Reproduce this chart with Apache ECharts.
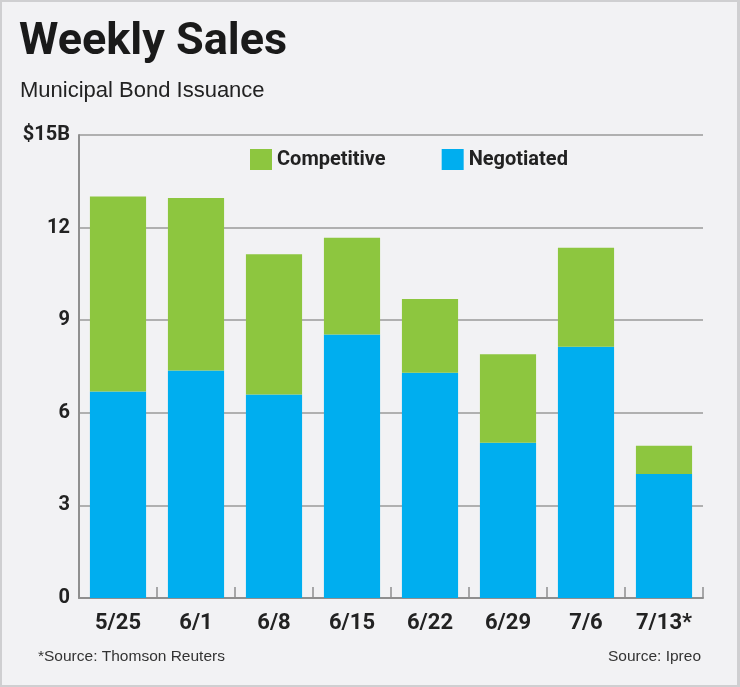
<!DOCTYPE html>
<html><head><meta charset="utf-8">
<script src="https://cdn.jsdelivr.net/npm/echarts@6/dist/echarts.min.js"></script>
<style>html,body{margin:0;padding:0;background:#f2f2f4}#c{width:740px;height:687px;box-sizing:border-box;border:2px solid #cfcfd1;border-right-width:3px}</style>
</head><body><div id="c"></div>
<script>
const categories = ['5/25','6/1','6/8','6/15','6/22','6/29','7/6','7/13*'];
const negotiated = [6.69, 7.37, 6.59, 8.54, 7.30, 5.03, 8.14, 4.02];
const competitive = [6.32, 5.59, 4.55, 3.13, 2.39, 2.87, 3.21, 0.91];
const yTickLabels = {0:'0',3:'3',6:'6',9:'9',12:'12',15:'$15B'};

const chart = echarts.init(document.getElementById('c'));
const narrow = 'Roboto, sans-serif';
const sans = '"Liberation Sans", Arial, sans-serif';
chart.setOption({
  backgroundColor: '#f2f2f4',
  animation: false,
  title: [
    {text:'Weekly Sales', left:12, top:13, textStyle:{fontFamily:narrow, fontWeight:'bold', fontSize:45, color:'#1a1a1a'}},
    {text:'Municipal Bond Issuance', left:13, top:73, textStyle:{fontFamily:sans, fontWeight:'normal', fontSize:22, color:'#222'}},
    {text:'*Source: Thomson Reuters', left:31, top:642, textStyle:{fontFamily:sans, fontWeight:'normal', fontSize:15.5, color:'#333'}},
    {text:'Source: Ipreo', right:31, top:642, textStyle:{fontFamily:sans, fontWeight:'normal', fontSize:15.5, color:'#333'}}
  ],
  legend: {
    data:['Competitive','Negotiated'], left:243, top:142, itemWidth:22, itemHeight:21, itemGap:56,
    icon:'rect',
    textStyle:{fontFamily:narrow, fontWeight:'bold', fontSize:20, color:'#222'}
  },
  grid: {left:77, right:34, top:133, bottom:87},
  xAxis: {
    type:'category', data:categories,
    axisLine:{lineStyle:{color:'#8f8f8f', width:2}},
    axisTick:{show:true, inside:true, length:11, lineStyle:{color:'#8f8f8f', width:1.5}},
    axisLabel:{fontFamily:narrow, fontWeight:'bold', fontSize:22, color:'#222', margin:14}
  },
  yAxis: {
    type:'value', min:0, max:15, interval:3,
    axisLine:{show:true, lineStyle:{color:'#8f8f8f', width:2}},
    axisTick:{show:false},
    splitLine:{lineStyle:{color:'#9a9a9a', width:1.5}},
    axisLabel:{fontFamily:narrow, fontWeight:'bold', fontSize:20, color:'#222', margin:9, formatter:v=>yTickLabels[v]}
  },
  series: [
    {name:'Negotiated', type:'bar', stack:'t', data:negotiated, barCategoryGap:'28%', itemStyle:{color:'#00aeef'}},
    {name:'Competitive', type:'bar', stack:'t', data:competitive, itemStyle:{color:'#8dc63f'}}
  ]
});
</script></body></html>
